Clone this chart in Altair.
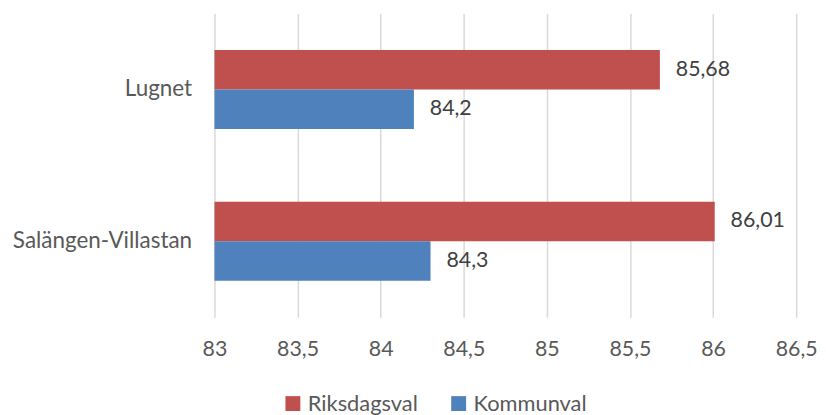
import altair as alt
import pandas as pd

categories = ["Lugnet", "Salängen-Villastan"]
series = ["Riksdagsval", "Kommunval"]
riksdagsval = [85.68, 86.01]
kommunval = [84.2, 84.3]
x_ticks = [83, 83.5, 84, 84.5, 85, 85.5, 86, 86.5]
colors = ["#C0504D", "#4F81BD"]

rows = []
for i, c in enumerate(categories):
    rows.append({"category": c, "series": series[0], "value": riksdagsval[i]})
    rows.append({"category": c, "series": series[1], "value": kommunval[i]})
df = pd.DataFrame(rows)

FONT = "Lato"
FS = 21.5

base = alt.Chart(df).transform_calculate(
    lbl="replace(toString(datum.value), '.', ',')"
).encode(
    y=alt.Y(
        "category:N",
        sort=categories,
        scale=alt.Scale(paddingInner=0.48, paddingOuter=0.24),
        axis=alt.Axis(title=None, domain=False, ticks=False, labelPadding=23,
                      labelLimit=400,
                      labelFont=FONT, labelFontSize=22.6, labelColor="#595959"),
    ),
    yOffset=alt.YOffset("series:N", sort=series, scale=alt.Scale(domain=series)),
    x=alt.X(
        "value:Q",
        scale=alt.Scale(domain=[83, 86.5], zero=False, nice=False),
        axis=alt.Axis(values=x_ticks, title=None, grid=True, gridColor="#D9D9D9",
                      gridWidth=1.5, domain=False, ticks=False, labelPadding=22,
                      labelFlush=False,
                      labelExpr="replace(toString(datum.value), '.', ',')",
                      labelFont=FONT, labelFontSize=FS, labelColor="#595959"),
    ),
)

bars = base.mark_bar().encode(
    x2=alt.datum(83),
    color=alt.Color(
        "series:N",
        sort=series,
        scale=alt.Scale(domain=series, range=colors),
        legend=alt.Legend(orient="none", legendX=68, legendY=382,
                          direction="horizontal", title=None,
                          symbolType="square", symbolSize=225, symbolStrokeWidth=0,
                          labelFont=FONT, labelFontSize=22, labelColor="#595959",
                          columnPadding=30, labelOffset=4),
    ),
)

text = base.mark_text(align="left", baseline="middle", dx=16, font=FONT,
                      fontSize=FS, color="#404040").encode(text="lbl:N")

chart = alt.layer(bars, text).properties(
    width=586,
    height=306,
    autosize=alt.AutoSizeParams(type="none"),
    padding={"left": 208, "top": 4, "right": 22, "bottom": 97},
).configure_view(stroke=None)

chart.save("out.html", embed_options={"renderer": "svg", "actions": False})
